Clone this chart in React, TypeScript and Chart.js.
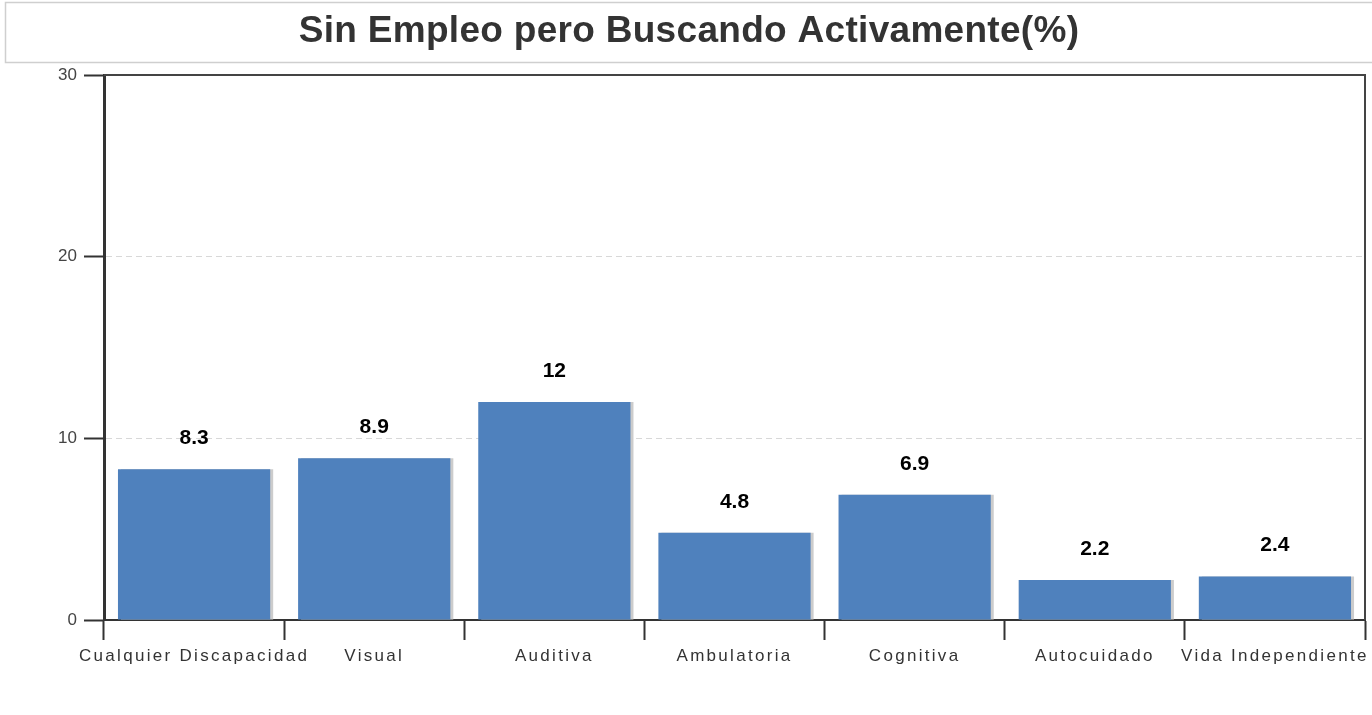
import React, { useEffect, useRef } from "react";
import { Chart, registerables } from "chart.js";

Chart.register(...registerables);

const TITLE = "Sin Empleo pero Buscando Activamente(%)";
const categories = [
  "Cualquier Discapacidad",
  "Visual",
  "Auditiva",
  "Ambulatoria",
  "Cognitiva",
  "Autocuidado",
  "Vida Independiente",
];
const values = [8.3, 8.9, 12, 4.8, 6.9, 2.2, 2.4];
const yTicks = [0, 10, 20, 30];

const FONT = "'Liberation Sans', Arial, sans-serif";

const decorPlugin = {
  id: "decor",
  beforeDatasetsDraw(chart: any) {
    const ctx = chart.ctx;
    ctx.save();
    ctx.shadowColor = "#cccccc";
    ctx.shadowOffsetX = 3;
    ctx.shadowOffsetY = 0;
    ctx.shadowBlur = 0;
  },
  afterDatasetsDraw(chart: any) {
    chart.ctx.restore();
  },
  afterDraw(chart: any) {
    const ctx = chart.ctx;
    const area = chart.chartArea;
    // title box
    ctx.save();
    ctx.strokeStyle = "#cfcfcf";
    ctx.lineWidth = 1.5;
    ctx.strokeRect(5.5, 2.5, 1380, 60);
    ctx.fillStyle = "#333333";
    ctx.font = `bold 37px ${FONT}`;
    (ctx as any).letterSpacing = "0.3px";
    ctx.textAlign = "center";
    ctx.textBaseline = "alphabetic";
    ctx.fillText(TITLE, 689, 42);
    ctx.restore();

    // top and right frame
    ctx.save();
    ctx.strokeStyle = "#444444";
    ctx.lineWidth = 2;
    ctx.beginPath();
    ctx.moveTo(area.left, area.top);
    ctx.lineTo(area.right, area.top);
    ctx.lineTo(area.right, area.bottom);
    ctx.stroke();
    ctx.restore();

    // x labels
    const xs = chart.scales.x;
    ctx.save();
    ctx.fillStyle = "#333333";
    ctx.font = `17px ${FONT}`;
    (ctx as any).letterSpacing = "2.3px";
    ctx.textAlign = "center";
    ctx.textBaseline = "alphabetic";
    categories.forEach((c, i) => {
      ctx.fillText(c, xs.getPixelForValue(i), 661);
    });
    ctx.restore();

    // data labels
    const meta = chart.getDatasetMeta(0);
    ctx.save();
    ctx.fillStyle = "#000000";
    ctx.font = `bold 21px ${FONT}`;
    ctx.textAlign = "center";
    ctx.textBaseline = "alphabetic";
    meta.data.forEach((bar: any, i: number) => {
      ctx.fillText(String(values[i]), bar.x, bar.y - 25);
    });
    ctx.restore();
  },
};

export default function App() {
  const ref = useRef<HTMLCanvasElement>(null);
  useEffect(() => {
    document.body.style.margin = "0";
    const chart = new Chart(ref.current as HTMLCanvasElement, {
      type: "bar",
      data: {
        labels: categories,
        datasets: [
          {
            data: values,
            backgroundColor: "#4f81bd",
            borderWidth: 0,
            barPercentage: 0.845,
            categoryPercentage: 1,
          },
        ],
      },
      plugins: [decorPlugin],
      options: {
        responsive: false,
        animation: false,
        devicePixelRatio: 1,
        layout: { padding: { top: 75, right: 7, left: 0, bottom: 0 } },
        plugins: {
          legend: { display: false },
          title: { display: false },
          tooltip: { enabled: false },
        },
        scales: {
          x: {
            type: "category",
            offset: true,
            afterFit: (s: any) => {
              s.height = 95;
            },
            grid: {
              display: true,
              offset: true,
              drawOnChartArea: false,
              drawTicks: true,
              tickLength: 20,
              tickColor: "#333333",
              tickWidth: 2,
            },
            border: { display: true, color: "#333333", width: 2 },
            ticks: { display: false },
          },
          y: {
            min: 0,
            max: 30,
            afterFit: (s: any) => {
              s.width = 104;
            },
            afterBuildTicks: (s: any) => {
              s.ticks = yTicks.map((v) => ({ value: v }));
            },
            grid: {
              color: "#d8d8d8",
              lineWidth: 1,
              drawTicks: true,
              tickLength: 20,
              tickColor: "#333333",
              tickWidth: 2,
              tickBorderDash: [],
            },
            border: { display: true, color: "#333333", width: 3, dash: [6, 4] },
            ticks: {
              color: "#444444",
              font: { family: FONT, size: 17 },
              padding: 7,
            },
          },
        },
      },
    });
    return () => chart.destroy();
  }, []);
  return (
    <div style={{ width: 1372, height: 715 }}>
      <canvas ref={ref} width={1372} height={715} style={{ display: "block" }} />
    </div>
  );
}
